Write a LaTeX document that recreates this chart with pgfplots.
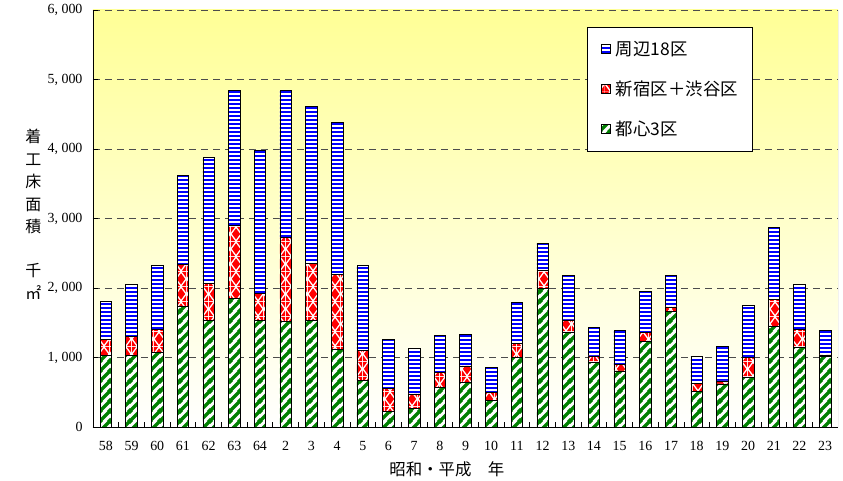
\documentclass[border=0pt]{standalone}
\usepackage{fontspec}
\setmainfont{Liberation Serif}
\newfontfamily\cjk{Noto Sans CJK JP}
\usepackage{pgfplots}
\usepackage{pgfplotstable}
\pgfplotsset{compat=1.18}
\usetikzlibrary{patterns}

\definecolor{bgyel}{RGB}{255,255,150}
\definecolor{sblue}{RGB}{0,0,255}
\definecolor{sred}{RGB}{255,0,0}
\definecolor{sgreen}{RGB}{0,128,0}

% horizontal stripes (wide tile so that no seams show)
\pgfdeclarepatternformonly{hstripe}{\pgfqpoint{-1bp}{0bp}}{\pgfqpoint{61bp}{4bp}}{\pgfqpoint{60bp}{4bp}}{%
  \pgfpathrectangle{\pgfqpoint{-1bp}{0bp}}{\pgfqpoint{62bp}{2.1bp}}\pgfusepath{fill}}
% diamonds
\pgfdeclarepatternformonly{diam}{\pgfqpoint{0bp}{0bp}}{\pgfqpoint{11bp}{15bp}}{\pgfqpoint{11bp}{15bp}}{%
  \pgfpathmoveto{\pgfqpoint{5.5bp}{1.5bp}}\pgfpathlineto{\pgfqpoint{10bp}{7.5bp}}
  \pgfpathlineto{\pgfqpoint{5.5bp}{13.5bp}}\pgfpathlineto{\pgfqpoint{1bp}{7.5bp}}\pgfpathclose
  \pgfpathmoveto{\pgfqpoint{0bp}{0bp}}\pgfpathlineto{\pgfqpoint{4.5bp}{0bp}}\pgfpathlineto{\pgfqpoint{0bp}{6bp}}\pgfpathclose
  \pgfpathmoveto{\pgfqpoint{11bp}{0bp}}\pgfpathlineto{\pgfqpoint{6.5bp}{0bp}}\pgfpathlineto{\pgfqpoint{11bp}{6bp}}\pgfpathclose
  \pgfpathmoveto{\pgfqpoint{0bp}{15bp}}\pgfpathlineto{\pgfqpoint{4.5bp}{15bp}}\pgfpathlineto{\pgfqpoint{0bp}{9bp}}\pgfpathclose
  \pgfpathmoveto{\pgfqpoint{11bp}{15bp}}\pgfpathlineto{\pgfqpoint{6.5bp}{15bp}}\pgfpathlineto{\pgfqpoint{11bp}{9bp}}\pgfpathclose
  \pgfusepath{fill}}
% diagonal stripes
\pgfdeclarepatternformonly{gdiag}{\pgfqpoint{0bp}{0bp}}{\pgfqpoint{10bp}{10bp}}{\pgfqpoint{10bp}{10bp}}{%
  \pgfsetlinewidth{3.6bp}
  \pgfpathmoveto{\pgfqpoint{-3bp}{-3bp}}\pgfpathlineto{\pgfqpoint{13bp}{13bp}}
  \pgfpathmoveto{\pgfqpoint{-3bp}{7bp}}\pgfpathlineto{\pgfqpoint{3bp}{13bp}}
  \pgfpathmoveto{\pgfqpoint{7bp}{-3bp}}\pgfpathlineto{\pgfqpoint{13bp}{3bp}}
  \pgfusepath{stroke}}

\pgfplotstableread{
x g r b
0 1026 234 550
1 1031 278 739
2 1079 331 916
3 1741 600 1285
4 1535 532 1813
5 1856 1046 1947
6 1535 388 2063
7 1515 1209 2126
8 1535 820 2264
9 1120 1081 2190
10 676 422 1228
11 230 326 701
12 269 206 652
13 575 212 537
14 647 231 455
15 388 111 364
16 998 206 595
17 2000 254 389
18 1362 178 637
19 926 96 412
20 806 96 484
21 1228 129 600
22 1669 58 450
23 513 115 389
24 619 43 503
25 715 292 744
26 1453 384 1041
27 1151 259 638
28 1017 19 350
}\data

\begin{document}
\begin{tikzpicture}
\begin{axis}[name=ax, scale only axis, width=745bp, height=417bp,
  ybar stacked, bar width=11.5bp,
  xmin=-0.5, xmax=28.5, ymin=0, ymax=6000,
  axis background/.style={shade, top color=bgyel, bottom color=white},
  axis x line*=bottom, axis y line*=left,
  axis line style={black, line width=0.8bp},
  xtick={0,...,28},
  xticklabels={58,59,60,61,62,63,64,2,3,4,5,6,7,8,9,10,11,12,13,14,15,16,17,18,19,20,21,22,23},
  minor xtick={0.5,1.5,...,27.5},
  major x tick style={draw=none},
  tick align=inside, minor tick length=5bp, major tick length=5bp,
  tick style={black, line width=0.7bp},
  ytick={0,1000,...,6000},
  ymajorgrids,
  major y grid style={black!70, dash pattern=on 7bp off 5bp, line width=0.8bp},
  /pgf/number format/assume math mode=true,
  /pgf/number format/1000 sep={,\ },
  ticklabel style={font=\fontsize{14}{16}\selectfont},
  xticklabel style={yshift=-11bp},
  yticklabel style={xshift=-7bp},
  ylabel={着\\工\\床\\面\\積\\[22bp]千\\㎡},
  ylabel style={at={(axis description cs:-0.08,0.51)}, rotate=-90, anchor=center,
    align=center, font=\cjk\fontsize{16}{22.5}\selectfont},
  xlabel={昭和・平成　年},
  xlabel style={at={(axis description cs:0.475,-0.102)}, anchor=center,
    font=\cjk\fontsize{16.5}{18}\selectfont},
  legend style={at={(axis description cs:0.663,0.959)}, anchor=north west,
    draw=black, fill=white, line width=0.6bp, font=\cjk\fontsize{17.5}{19}\selectfont,
    row sep=20bp, inner xsep=12bp, inner ysep=12bp, cells={anchor=west}},
  legend image code/.code={\draw[#1, draw=black, line width=0.6bp] (0bp,-4.5bp) rectangle (9bp,4.5bp);
    \path (-2bp,0bp) (12bp,0bp);},
  reverse legend,
]
\addplot[fill=white, draw=black, line width=0.6bp, postaction={pattern=gdiag, pattern color=sgreen}] table[x=x, y=g]{\data};
\addplot[fill=white, draw=black, line width=0.6bp, postaction={pattern=diam, pattern color=sred}] table[x=x, y=r]{\data};
\addplot[fill=white, draw=black, line width=0.6bp, postaction={pattern=hstripe, pattern color=sblue}] table[x=x, y=b]{\data};
\legend{都心3区, 新宿区＋渋谷区, 周辺18区}
\draw[black!40, line width=0.8bp] (rel axis cs:1,0) -- (rel axis cs:1,1);
\end{axis}
\path ([xshift=-93bp,yshift=-54bp]ax.south west) rectangle ([xshift=5bp,yshift=10bp]ax.north east);
\end{tikzpicture}
\end{document}
